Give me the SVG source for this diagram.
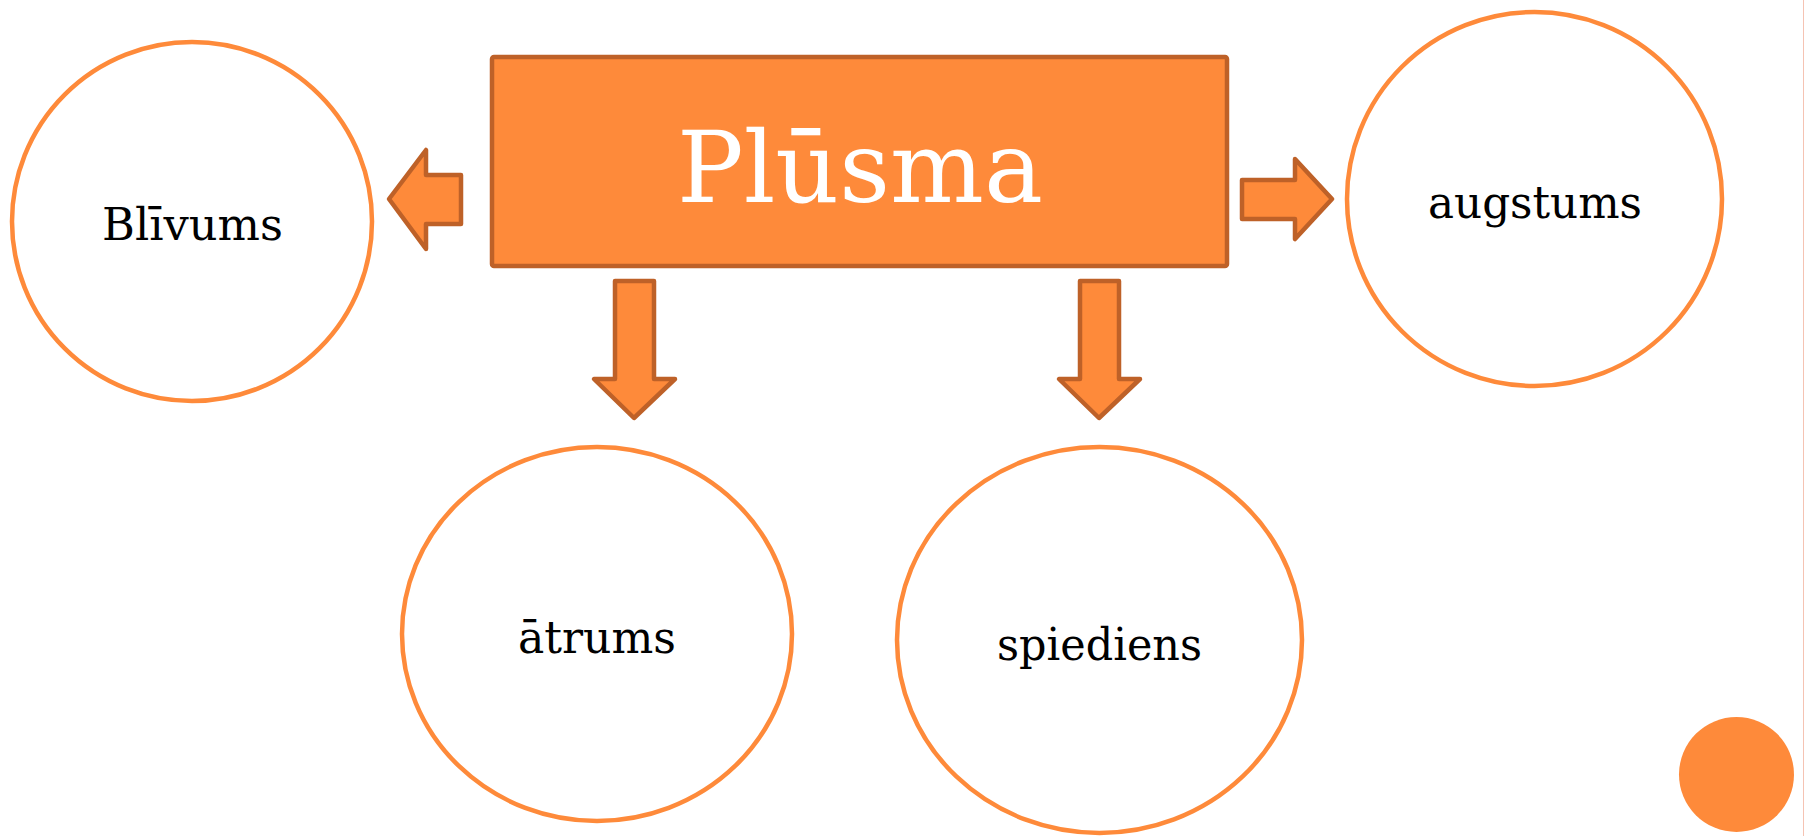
<svg xmlns="http://www.w3.org/2000/svg" width="1804" height="836" viewBox="0 0 1804 836">
  <style>
    .node { fill: #FFFFFF; stroke: #FE8A3A; stroke-width: 4.5; }
    .lbl { font-family: "DejaVu Serif", "Liberation Serif", serif; font-size: 44px; fill: #000000; text-anchor: middle; }
    .arrow { fill: #FE8A3A; stroke: #BE6128; stroke-width: 4.5; stroke-linejoin: round; }
    .main { fill: #FE8A3A; stroke: #BE6128; stroke-width: 4.5; }
    .title { font-family: "DejaVu Serif", "Liberation Serif", serif; font-size: 100px; fill: #FFFFFF; text-anchor: middle; }
  </style>
  <rect x="0" y="0" width="1804" height="836" fill="#FFFFFF"/>
  <line x1="1803.5" y1="0" x2="1803.5" y2="836" stroke="#F5C3B3" stroke-width="1"/>

  <g id="connectors">
    <path class="arrow" d="M389,199 L426,150 L426,175 L461,175 L461,224 L426,224 L426,249 Z"/>
    <path class="arrow" d="M1242,180 L1295,180 L1295,159 L1332,199 L1295,239 L1295,219 L1242,219 Z"/>
    <path class="arrow" d="M615,281 L654,281 L654,379 L675,379 L634,418 L594,379 L615,379 Z"/>
    <path class="arrow" d="M1080,281 L1119,281 L1119,379 L1140,379 L1099,418 L1059,379 L1080,379 Z"/>
  </g>

  <g id="plusma">
    <rect class="main" x="492" y="57" width="735" height="209" rx="2"/>
    <text class="title" x="860" y="202" textLength="366" lengthAdjust="spacingAndGlyphs">Plūsma</text>
  </g>

  <g id="blivums">
    <ellipse class="node" cx="192" cy="221.5" rx="180" ry="179.5"/>
    <text class="lbl" x="192.5" y="240" textLength="181" lengthAdjust="spacingAndGlyphs">Blīvums</text>
  </g>

  <g id="augstums">
    <ellipse class="node" cx="1534.5" cy="199" rx="187.5" ry="187"/>
    <text class="lbl" x="1535" y="218" textLength="214" lengthAdjust="spacingAndGlyphs">augstums</text>
  </g>

  <g id="atrums">
    <ellipse class="node" cx="597" cy="634" rx="195" ry="187"/>
    <text class="lbl" x="597" y="653" textLength="158" lengthAdjust="spacingAndGlyphs">ātrums</text>
  </g>

  <g id="spiediens">
    <ellipse class="node" cx="1099.5" cy="640" rx="202.5" ry="193"/>
    <text class="lbl" x="1099.5" y="660" textLength="205" lengthAdjust="spacingAndGlyphs">spiediens</text>
  </g>

  <g id="dot">
    <circle cx="1736.5" cy="774.5" r="57.5" fill="#FE8A3A"/>
  </g>
</svg>
